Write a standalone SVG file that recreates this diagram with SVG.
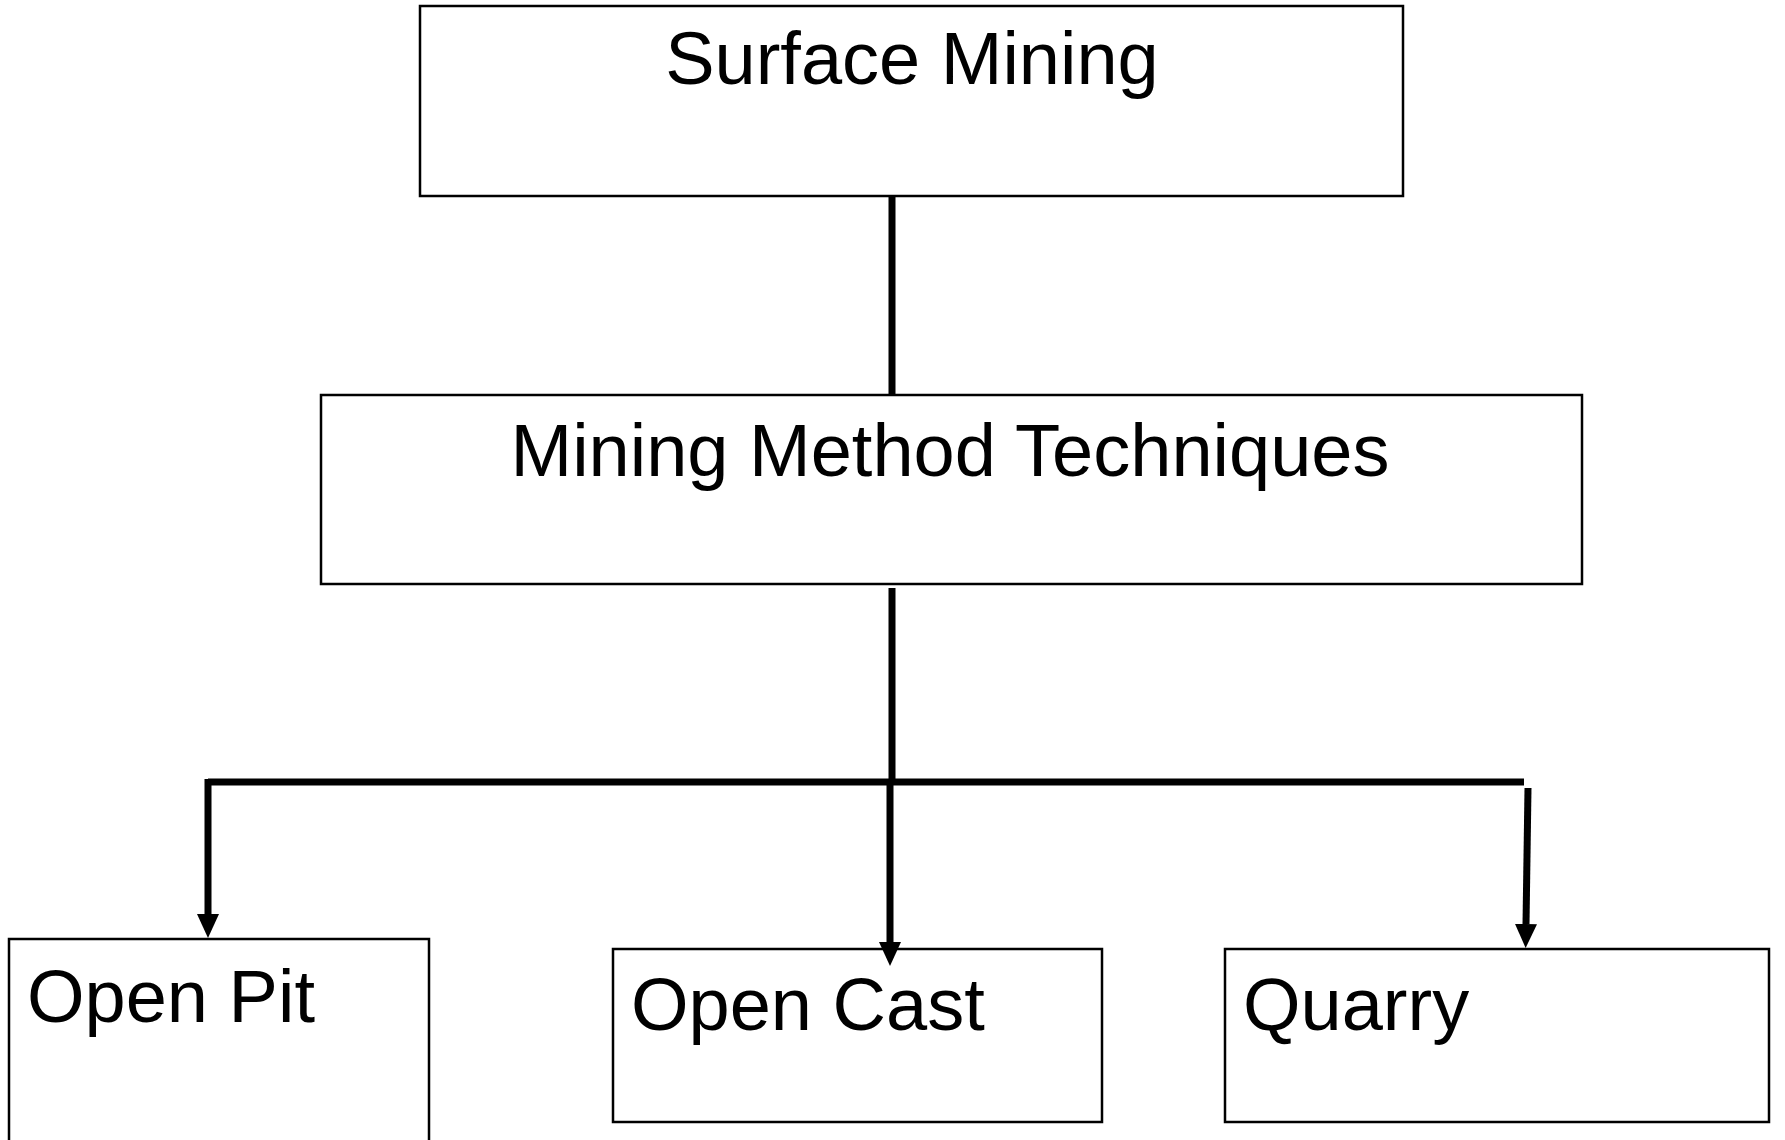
<svg xmlns="http://www.w3.org/2000/svg" width="1785" height="1140" viewBox="0 0 1785 1140">
<style>
.box{fill:none;stroke:#000;stroke-width:2.5}
.lbl{font-family:"Liberation Sans",Arial,sans-serif;fill:#000;font-size:74px}
.con{stroke:#000;stroke-width:7;fill:none}
</style>
<defs>
<marker id="arr" markerUnits="userSpaceOnUse" markerWidth="24" markerHeight="22" viewBox="0 0 24 22" refX="0" refY="11" orient="auto">
<path d="M0,0 L24,11 L0,22 z" fill="#000"/>
</marker>
</defs>
<rect width="1785" height="1140" fill="#fff"/>
<g id="node-surface-mining">
<rect class="box" x="420" y="6" width="983" height="190"/>
<text class="lbl" x="912" y="84" text-anchor="middle">Surface Mining</text>
</g>
<g id="node-mining-method">
<rect class="box" x="321" y="395" width="1261" height="189"/>
<text class="lbl" x="950" y="476" text-anchor="middle">Mining Method Techniques</text>
</g>
<g id="node-open-pit">
<rect class="box" x="9" y="939" width="420" height="210"/>
<text class="lbl" x="27" y="1022">Open Pit</text>
</g>
<g id="node-open-cast">
<rect class="box" x="613" y="949" width="489" height="173"/>
<text class="lbl" x="631" y="1030">Open Cast</text>
</g>
<g id="node-quarry">
<rect class="box" x="1225" y="949" width="544" height="173"/>
<text class="lbl" x="1243" y="1030">Quarry</text>
</g>
<g id="connectors">
<line class="con" x1="892" y1="196" x2="892" y2="394" stroke-width="6"/>
<line class="con" x1="892" y1="588" x2="892" y2="782" stroke-width="6"/>
<line class="con" x1="208" y1="782" x2="1524" y2="782"/>
<line class="con" x1="208" y1="779" x2="208" y2="914" marker-end="url(#arr)"/>
<line class="con" x1="890" y1="782" x2="890" y2="942" marker-end="url(#arr)"/>
<line class="con" x1="1528" y1="788" x2="1526" y2="924" marker-end="url(#arr)"/>
</g>
</svg>
